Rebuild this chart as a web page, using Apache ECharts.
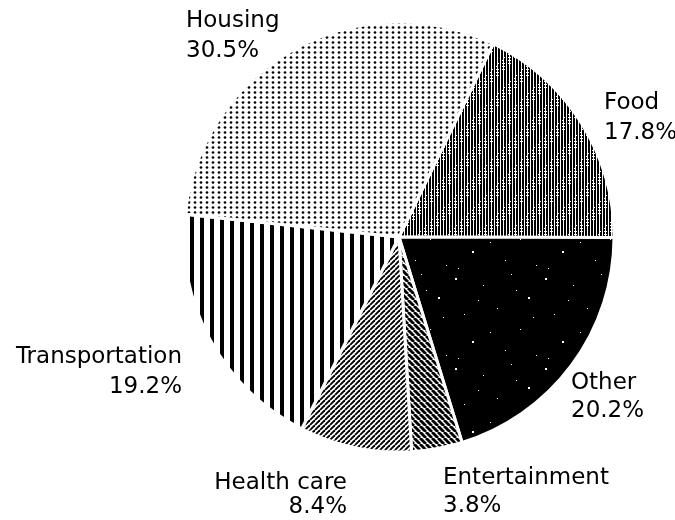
<!DOCTYPE html>
<html>
<head>
<meta charset="utf-8">
<script src="https://cdn.jsdelivr.net/npm/echarts@6/dist/echarts.min.js"></script>
<style>
html,body{margin:0;padding:0;background:#fff;}
#chart{width:675px;height:520px;}
</style>
</head>
<body>
<div id="chart"></div>
<script>
// ---- data ----
const categories = ['Food', 'Other', 'Entertainment', 'Health care', 'Transportation', 'Housing'];
const shares = [17.8, 20.2, 3.8, 8.4, 19.2, 30.5];

// ---- texture helpers ----
function tile(w, h, draw) {
  const c = document.createElement('canvas');
  c.width = w; c.height = h;
  const g = c.getContext('2d');
  draw(g, w, h);
  return c;
}
const texFood = tile(30, 30, (g, w, h) => {
  g.fillStyle = '#fff'; g.fillRect(0, 0, w, h);
  g.fillStyle = '#000';
  for (let x = 0; x < w; x += 3) g.fillRect(x, 0, 2, h);
  g.fillStyle = '#fff';
  for (let i = 0; i < 70; i++) g.fillRect((i * 7 + (i % 4)) % w, (i * 13 + (i % 3) * 5) % h, 1, 1);
});
const texOther = tile(90, 90, (g, w, h) => {
  g.fillStyle = '#000'; g.fillRect(0, 0, w, h);
  g.fillStyle = '#fff';
  const pts = [[5,8,2],[33,15,1],[61,4,1],[78,27,2],[14,44,1],[47,38,1],[70,59,1],[22,71,2],[55,80,1],[86,85,1],[40,62,1],[8,88,1],[66,20,1],[28,30,1],[83,47,1]];
  pts.forEach(p => g.fillRect(p[0], p[1], p[2], p[2]));
});
const texEnt = tile(6, 6, (g, w, h) => {
  g.fillStyle = '#fff'; g.fillRect(0, 0, w, h);
  g.strokeStyle = '#000'; g.lineWidth = 2.9;
  for (let k = -1; k <= 1; k++) { g.beginPath(); g.moveTo(k * w, 0); g.lineTo(k * w + w, h); g.stroke(); }
});
const texHealth = tile(5, 5, (g, w, h) => {
  g.fillStyle = '#fff'; g.fillRect(0, 0, w, h);
  g.strokeStyle = '#000'; g.lineWidth = 1.9;
  for (let k = -1; k <= 1; k++) { g.beginPath(); g.moveTo(k * w, h); g.lineTo(k * w + w, 0); g.stroke(); }
});
const texTrans = tile(10, 10, (g, w, h) => {
  g.fillStyle = '#fff'; g.fillRect(0, 0, w, h);
  g.fillStyle = '#000'; g.fillRect(0, 0, 4, h);
});
const texHousing = tile(6, 5, (g, w, h) => {
  g.fillStyle = '#fff'; g.fillRect(0, 0, w, h);
  g.fillStyle = '#000'; g.beginPath(); g.arc(3, 2.5, 1.35, 0, Math.PI * 2); g.fill();
});
const textures = [texFood, texOther, texEnt, texHealth, texTrans, texHousing];

// label placement (x, y-middle, align, lineHeight)
const labelPlace = [
  [604, 118, 'left', 30],
  [571, 397, 'left', 28],
  [443, 492, 'left', 28],
  [347, 495, 'right', 24],
  [182, 372, 'right', 30],
  [186, 36, 'left', 30]
];

const chart = echarts.init(document.getElementById('chart'), null, { renderer: 'canvas' });
chart.setOption({
  backgroundColor: '#fff',
  animation: false,
  series: [{
    type: 'pie',
    silent: true,
    center: [399, 237],
    radius: 215,
    startAngle: 64,
    clockwise: true,
    avoidLabelOverlap: false,
    itemStyle: { borderColor: '#fff', borderWidth: 3 },
    label: {
      show: true,
      position: 'outside',
      color: '#000',
      fontFamily: 'DejaVu Sans',
      fontSize: 23,
      formatter: p => p.name + '\n' + p.value + '%'
    },
    labelLine: { show: false },
    labelLayout: p => {
      const lp = labelPlace[p.dataIndex];
      return { x: lp[0], y: lp[1], align: lp[2], verticalAlign: 'middle' };
    },
    emphasis: { disabled: true },
    data: categories.map((name, i) => ({
      name: name,
      value: shares[i],
      itemStyle: { color: { image: textures[i], repeat: 'repeat' } },
      label: { lineHeight: labelPlace[i][3], align: labelPlace[i][2] }
    }))
  }]
});
</script>
</body>
</html>
